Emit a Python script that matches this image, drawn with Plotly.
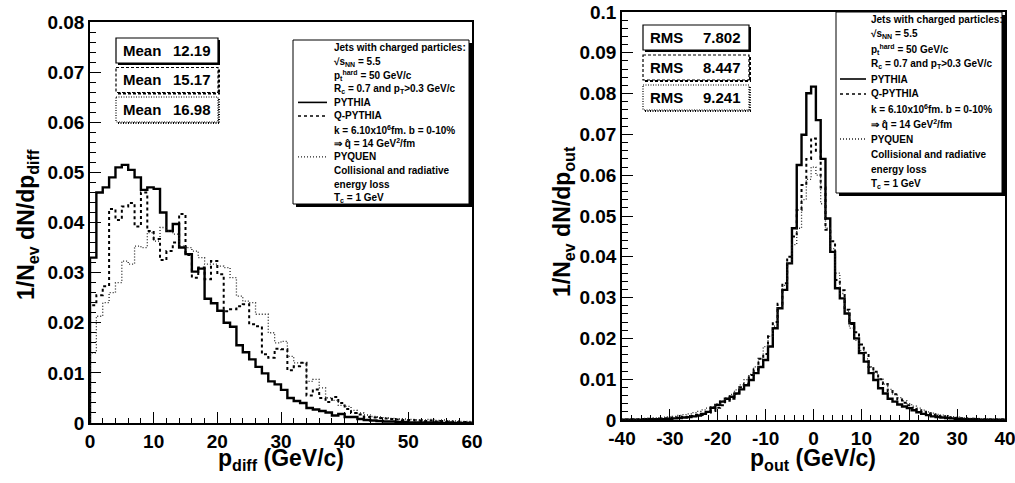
import numpy as np
import plotly.graph_objects as go

W, H = 1015, 483
FONT = "Liberation Sans"

# ---------------- data ----------------
# p_diff histograms: 60 bins of 1 GeV/c from 0 to 60
pdiff_lo, pdiff_hi = 0, 60
pdiff_pythia = [0.0330, 0.0460, 0.0470, 0.0490, 0.0510, 0.0515, 0.0505, 0.0490, 0.0465, 0.0470,
                0.0467, 0.0420, 0.0383, 0.0397, 0.0350, 0.0337, 0.0302, 0.0308, 0.0248, 0.0239,
                0.0224, 0.0200, 0.0192, 0.0155, 0.0141, 0.0127, 0.0112, 0.0099, 0.0083, 0.0077,
                0.0066, 0.0050, 0.0044, 0.0040, 0.0030, 0.0027, 0.0024, 0.0021, 0.0015, 0.0018,
                0.0012, 0.0012, 0.0008, 0.0006, 0.0005, 0.0004, 0.0003, 0.0003, 0.0002, 0.0002,
                0.0001, 0.0001, 0.0001, 0.0001, 0.0001, 0.0000, 0.0001, 0.0000, 0.0000, 0.0000]
pdiff_qpythia = [0.0235, 0.0255, 0.0273, 0.0427, 0.0405, 0.0432, 0.0439, 0.0392, 0.0460, 0.0383,
                 0.0367, 0.0325, 0.0343, 0.0360, 0.0417, 0.0335, 0.0290, 0.0310, 0.0287, 0.0323,
                 0.0297, 0.0223, 0.0227, 0.0233, 0.0237, 0.0197, 0.0193, 0.0137, 0.0130, 0.0148,
                 0.0147, 0.0105, 0.0113, 0.0120, 0.0055, 0.0067, 0.0050, 0.0042, 0.0052, 0.0040,
                 0.0028, 0.0020, 0.0017, 0.0012, 0.0011, 0.0010, 0.0009, 0.0008, 0.0007, 0.0006,
                 0.0006, 0.0005, 0.0004, 0.0005, 0.0003, 0.0004, 0.0003, 0.0002, 0.0002, 0.0001]
pdiff_pyquen = [0.0140, 0.0213, 0.0240, 0.0260, 0.0280, 0.0323, 0.0317, 0.0353, 0.0350, 0.0380,
                0.0363, 0.0390, 0.0383, 0.0377, 0.0353, 0.0350, 0.0343, 0.0330, 0.0317, 0.0317,
                0.0313, 0.0310, 0.0290, 0.0253, 0.0243, 0.0240, 0.0217, 0.0217, 0.0180, 0.0160,
                0.0163, 0.0133, 0.0120, 0.0120, 0.0083, 0.0087, 0.0070, 0.0050, 0.0045, 0.0035,
                0.0033, 0.0025, 0.0020, 0.0016, 0.0013, 0.0012, 0.0010, 0.0009, 0.0008, 0.0008,
                0.0007, 0.0006, 0.0006, 0.0007, 0.0005, 0.0006, 0.0004, 0.0004, 0.0003, 0.0003]

# p_out histograms: 81 bins of 1 GeV/c centred on -40 ... 40
pout_lo, pout_hi = -40, 40
pout_pythia = [0.0001, 0.0001, 0.0001, 0.0001, 0.0001, 0.0002, 0.0002, 0.0002, 0.0002, 0.0002,
               0.0003, 0.0004, 0.0005, 0.0006, 0.0007, 0.0009, 0.0011, 0.0015, 0.0020, 0.0030,
               0.0037, 0.0045, 0.0052, 0.0057, 0.0065, 0.0075, 0.0085, 0.0098, 0.0115, 0.0130,
               0.0147, 0.0180, 0.0225, 0.0274, 0.0319, 0.0384, 0.0470, 0.0625, 0.0699, 0.0801,
               0.0817,
               0.0735, 0.0640, 0.0494, 0.0412, 0.0323, 0.0298, 0.0261, 0.0237, 0.0200, 0.0164,
               0.0143, 0.0115, 0.0098, 0.0078, 0.0065, 0.0052, 0.0045, 0.0038, 0.0033, 0.0029,
               0.0024, 0.0019, 0.0015, 0.0012, 0.0009, 0.0007, 0.0006, 0.0005, 0.0004, 0.0003,
               0.0002, 0.0002, 0.0002, 0.0002, 0.0001, 0.0001, 0.0001, 0.0001, 0.0001, 0.0001]
pout_qpythia = [0.0001, 0.0001, 0.0002, 0.0001, 0.0002, 0.0002, 0.0003, 0.0002, 0.0003, 0.0004,
                0.0004, 0.0006, 0.0005, 0.0008, 0.0007, 0.0010, 0.0013, 0.0012, 0.0018, 0.0022,
                0.0030, 0.0036, 0.0047, 0.0052, 0.0064, 0.0080, 0.0089, 0.0110, 0.0124, 0.0150,
                0.0162, 0.0205, 0.0240, 0.0285, 0.0335, 0.0400, 0.0450, 0.0515, 0.0576, 0.0640,
                0.0690,
                0.0660, 0.0570, 0.0466, 0.0438, 0.0343, 0.0318, 0.0270, 0.0235, 0.0215, 0.0185,
                0.0165, 0.0130, 0.0118, 0.0100, 0.0088, 0.0071, 0.0063, 0.0050, 0.0042, 0.0036,
                0.0030, 0.0024, 0.0020, 0.0016, 0.0013, 0.0010, 0.0009, 0.0007, 0.0006, 0.0005,
                0.0004, 0.0003, 0.0003, 0.0002, 0.0002, 0.0002, 0.0001, 0.0001, 0.0001, 0.0001]
pout_pyquen = [0.0002, 0.0002, 0.0003, 0.0002, 0.0003, 0.0004, 0.0004, 0.0005, 0.0006, 0.0007,
               0.0008, 0.0009, 0.0011, 0.0013, 0.0015, 0.0018, 0.0021, 0.0025, 0.0029, 0.0033,
               0.0040, 0.0047, 0.0055, 0.0063, 0.0074, 0.0086, 0.0099, 0.0112, 0.0130, 0.0150,
               0.0180, 0.0205, 0.0230, 0.0275, 0.0330, 0.0385, 0.0430, 0.0470, 0.0540, 0.0590,
               0.0620,
               0.0600, 0.0530, 0.0470, 0.0420, 0.0360, 0.0310, 0.0265, 0.0225, 0.0195, 0.0170,
               0.0150, 0.0130, 0.0115, 0.0100, 0.0088, 0.0075, 0.0064, 0.0055, 0.0047, 0.0040,
               0.0034, 0.0029, 0.0024, 0.0020, 0.0017, 0.0014, 0.0012, 0.0010, 0.0008, 0.0007,
               0.0006, 0.0005, 0.0004, 0.0004, 0.0003, 0.0003, 0.0002, 0.0002, 0.0002, 0.0001]

series_names = ["PYTHIA", "Q-PYTHIA", "PYQUEN"]
pdiff_means = ["12.19", "15.17", "16.98"]
pout_rms = ["7.802", "8.447", "9.241"]

pdiff_ticks = [0, 10, 20, 30, 40, 50, 60]
pdiff_ticktext = ["0", "10", "20", "30", "40", "50", "60"]
pout_ticks = [-40, -30, -20, -10, 0, 10, 20, 30, 40]
pout_ticktext = ["-40", "-30", "-20", "-10", "0", "10", "20", "30", "40"]

legend_lines = [
    "Jets with charged particles:",
    "√s<sub>NN</sub> = 5.5",
    "p<sub>t</sub><sup>hard</sup> = 50 GeV/c",
    "R<sub>c</sub> = 0.7 and p<sub>T</sub>&gt;0.3 GeV/c",
    "PYTHIA",
    "Q-PYTHIA",
    "k = 6.10x10<sup>6</sup>fm. b = 0-10%",
    "⇒ q\u0302 = 14 GeV<sup>2</sup>/fm",
    "PYQUEN",
    "Collisional and radiative",
    "energy loss",
    "T<sub>c</sub> = 1 GeV",
]
legend_sample_rows = {4: 0, 5: 1, 8: 2}

# ---------------- styling ----------------
styles = [dict(color="black", width=2.4, dash="solid"),
          dict(color="black", width=2.0, dash="3px,3px"),
          dict(color="#222222", width=1.3, dash="1px,2px")]


def px(x):
    return x / W


def py(y):
    return 1 - y / H


def step_xy(edges, vals):
    xs = np.concatenate([[edges[0]], edges])
    ys = np.concatenate([[0.0], np.asarray(vals, float), [0.0]])
    return xs, ys


fig = go.Figure()

pdiff_edges = np.arange(pdiff_lo, pdiff_hi + 1, 1.0)
pout_edges = np.arange(pout_lo, pout_hi + 2, 1.0) - 0.5
for i, vals in enumerate([pdiff_pythia, pdiff_qpythia, pdiff_pyquen]):
    assert len(vals) == len(pdiff_edges) - 1
    xs, ys = step_xy(pdiff_edges, vals)
    fig.add_trace(go.Scatter(x=xs, y=ys, mode="lines", line=dict(shape="hv", **styles[i]),
                             name=series_names[i], xaxis="x", yaxis="y", showlegend=False))
for i, vals in enumerate([pout_pythia, pout_qpythia, pout_pyquen]):
    assert len(vals) == len(pout_edges) - 1
    xs, ys = step_xy(pout_edges, vals)
    fig.add_trace(go.Scatter(x=xs, y=ys, mode="lines", line=dict(shape="hv", **styles[i]),
                             name=series_names[i], xaxis="x2", yaxis="y2", showlegend=False))

tickfont = dict(family=FONT, size=19, color="black", weight="bold")
common = dict(showline=True, mirror=True, linecolor="black", linewidth=1.5, showgrid=False,
              zeroline=False, ticks="inside", ticklen=11, tickwidth=1, tickcolor="black",
              tickfont=tickfont, automargin=False, ticklabeloverflow="allow")

L_left, L_right, L_top, L_bot = 90, 472, 22, 423
R_left, R_right, R_top, R_bot = 622, 1005, 12, 420

fig.update_layout(
    width=W, height=H, margin=dict(l=0, r=0, t=0, b=0, autoexpand=False),
    paper_bgcolor="white", plot_bgcolor="white",
    font=dict(family=FONT, color="black"),
    xaxis=dict(domain=[px(L_left), px(L_right)], range=[0, 60],
               tickmode="array", tickvals=pdiff_ticks, ticktext=pdiff_ticktext,
               minor=dict(dtick=2, tick0=0, ticklen=5, ticks="inside", tickcolor="black"),
               anchor="y", **common),
    yaxis=dict(domain=[py(L_bot), py(L_top)], range=[0, 0.08], dtick=0.01, tick0=0,
               minor=dict(dtick=0.002, ticklen=6, ticks="inside", tickcolor="black"),
               anchor="x", **common),
    xaxis2=dict(domain=[px(R_left), px(R_right)], range=[-40, 40],
                tickmode="array", tickvals=pout_ticks, ticktext=pout_ticktext,
                minor=dict(dtick=2, tick0=0, ticklen=5, ticks="inside", tickcolor="black"),
                anchor="y2", **common),
    yaxis2=dict(domain=[py(R_bot), py(R_top)], range=[0, 0.1], dtick=0.01, tick0=0,
                minor=dict(dtick=0.002, ticklen=6, ticks="inside", tickcolor="black"),
                anchor="x2", **common),
)

shapes = []
annotations = []


def text(x, y, s, size, xanchor="left", angle=0):
    annotations.append(dict(xref="paper", yref="paper", x=px(x), y=py(y), text=s,
                            showarrow=False, xanchor=xanchor, yanchor="middle",
                            textangle=angle,
                            font=dict(family=FONT, size=size, color="black", weight="bold")))


def line(x0, y0, x1, y1, width, dash="solid", color="black"):
    shapes.append(dict(type="line", xref="paper", yref="paper", x0=px(x0), y0=py(y0),
                       x1=px(x1), y1=py(y1), line=dict(color=color, width=width, dash=dash)))


def box(x0, y0, x1, y1, dash, shadow=2):
    shapes.append(dict(type="rect", xref="paper", yref="paper", x0=px(x0), y0=py(y0),
                       x1=px(x1), y1=py(y1), fillcolor="white",
                       line=dict(color="black", width=1.2, dash=dash)))
    line(x1 + 1, y0 + 2, x1 + 1, y1 + 1, shadow, dash)
    line(x0 + 2, y1 + 1, x1 + 2, y1 + 1, shadow, dash)


# axis titles
text(281, 459, "p<sub>diff</sub> (GeV/c)", 23, xanchor="center")
text(27, 225, "1/N<sub>ev</sub> dN/dp<sub>diff</sub>", 23, xanchor="center", angle=-90)
text(813, 459, "p<sub>out</sub> (GeV/c)", 23, xanchor="center")
text(563, 222, "1/N<sub>ev</sub> dN/dp<sub>out</sub>", 23, xanchor="center", angle=-90)

# stat boxes
box_dash = ["solid", "3px,2px", "1px,1.5px"]
for i, m in enumerate(pdiff_means):
    y0 = 38 + 29.5 * i
    box(116, y0, 218, y0 + 25, box_dash[i])
    text(121, y0 + 12.5, "Mean", 15)
    text(213, y0 + 12.5, m, 15, xanchor="right")
for i, r in enumerate(pout_rms):
    y0 = 25 + 30 * i
    box(643, y0, 749, y0 + 25, box_dash[i])
    text(648, y0 + 12.5, "RMS", 15)
    text(743, y0 + 12.5, r, 15, xanchor="right")


def legend(x0, y0, x1, y1, first, step, tx, sx0, sx1):
    shapes.append(dict(type="rect", xref="paper", yref="paper", x0=px(x0 + 3), y0=py(y0 + 3),
                       x1=px(x1 + 3), y1=py(y1 + 3), fillcolor="black",
                       line=dict(color="black", width=0)))
    shapes.append(dict(type="rect", xref="paper", yref="paper", x0=px(x0), y0=py(y0),
                       x1=px(x1), y1=py(y1), fillcolor="white",
                       line=dict(color="black", width=1)))
    for j, s in enumerate(legend_lines):
        yy = first + step * j
        text(tx, yy, s, 10)
        if j in legend_sample_rows:
            st = styles[legend_sample_rows[j]]
            line(sx0, yy, sx1, yy, min(st["width"], 1.6), st["dash"], st["color"])


legend(293, 40, 469, 204, 48, 13.6, 332, 298, 327)
legend(836, 12, 1002, 193, 19, 15.0, 869, 840, 866)

fig.update_layout(shapes=shapes, annotations=annotations)
fig.write_html("out.html")
